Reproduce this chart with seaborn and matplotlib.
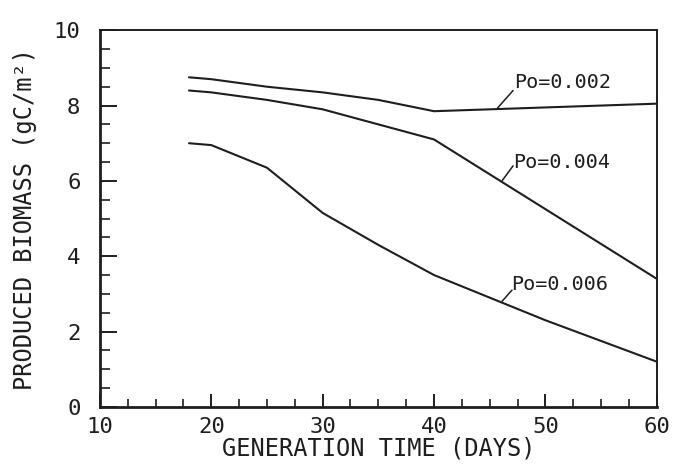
import matplotlib
matplotlib.use("Agg")
import matplotlib.pyplot as plt
from matplotlib.ticker import MultipleLocator
import numpy as np
import pandas as pd
import seaborn as sns

# Generation time (days) and produced biomass (gC/m^2) for three Po values
gen_time = [18, 20, 25, 30, 35, 40, 50, 60]
biomass_po002 = [8.75, 8.70, 8.50, 8.35, 8.15, 7.85, 7.95, 8.05]
biomass_po004 = [8.40, 8.35, 8.15, 7.90, 7.50, 7.10, 5.25, 3.40]
biomass_po006 = [7.00, 6.95, 6.35, 5.15, 4.30, 3.50, 2.30, 1.20]
po_labels = ["Po=0.002", "Po=0.004", "Po=0.006"]

df = pd.DataFrame({
    "time": gen_time * 3,
    "biomass": biomass_po002 + biomass_po004 + biomass_po006,
    "po": [po_labels[0]] * len(gen_time) + [po_labels[1]] * len(gen_time)
          + [po_labels[2]] * len(gen_time),
})

sns.set_theme(style="ticks")
plt.rcParams["font.family"] = ["DejaVu Sans Mono"]

ink = "#1e1e1e"
fig = plt.figure(figsize=(6.75, 4.65), dpi=100)
ax = fig.add_axes([0.148, 0.125, 0.825, 0.81])

sns.lineplot(data=df, x="time", y="biomass", hue="po",
             palette=[ink, ink, ink], linewidth=1.5, legend=False,
             sort=True, ax=ax, estimator=None)

ax.set_xlim(10, 60)
ax.set_ylim(0, 10)
ax.xaxis.set_major_locator(MultipleLocator(10))
ax.xaxis.set_minor_locator(MultipleLocator(2.5))
ax.yaxis.set_major_locator(MultipleLocator(2))
ax.yaxis.set_minor_locator(MultipleLocator(0.5))

ax.tick_params(axis="both", which="both", direction="in", colors=ink,
               top=False, right=False, labelsize=16)
ax.tick_params(axis="x", which="major", length=9.5, width=1.4, pad=7)
ax.tick_params(axis="x", which="minor", length=6, width=1.2)
ax.tick_params(axis="y", which="major", length=12, width=1.4, pad=14)
ax.tick_params(axis="y", which="minor", length=7, width=1.2)

for side, lw in {"left": 2.0, "bottom": 2.0, "top": 1.4, "right": 1.4}.items():
    ax.spines[side].set_visible(True)
    ax.spines[side].set_color(ink)
    ax.spines[side].set_linewidth(lw)

ax.set_xlabel("GENERATION TIME (DAYS)", fontsize=17, color=ink, labelpad=0)
ax.set_ylabel("PRODUCED BIOMASS (gC/m²)", fontsize=17, color=ink, labelpad=12)

# Curve labels with short leader lines
label_pos = [(47.2, 8.62), (47.1, 6.5), (46.9, 3.25)]
leader_start = [(45.6, 7.90), (46.1, 6.00), (46.1, 2.80)]
leader_end = [(47.1, 8.40), (47.1, 6.40), (47.0, 3.10)]
for text, (tx, ty), (x0, y0), (x1, y1) in zip(po_labels, label_pos,
                                               leader_start, leader_end):
    ax.plot([x0, x1], [y0, y1], color=ink, linewidth=1.1)
    ax.text(tx, ty, text, fontsize=14.5, color=ink, ha="left", va="center")

fig.savefig("out.png", dpi=100, facecolor="white")
